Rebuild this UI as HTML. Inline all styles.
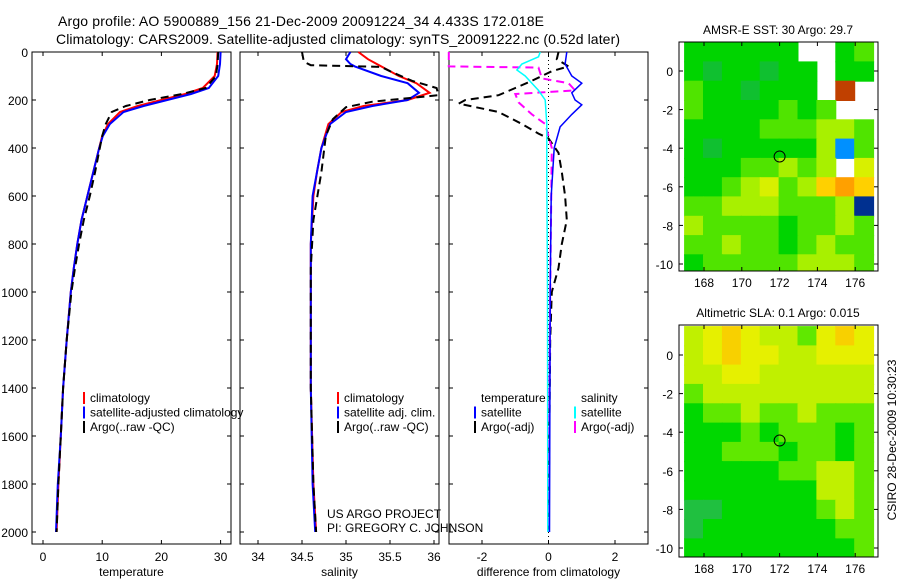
<!DOCTYPE html>
<html><head><meta charset="utf-8"><style>
body{margin:0;background:#fff;}
svg text{font-family:"Liberation Sans",sans-serif;fill:#000;}
</style></head><body>
<svg id="c" width="900" height="580" xmlns="http://www.w3.org/2000/svg">
<text x="58" y="26" font-size="14" textLength="486">Argo profile: AO 5900889_156 21-Dec-2009 20091224_34 4.433S 172.018E</text>
<text x="56" y="44" font-size="14" textLength="564">Climatology: CARS2009. Satellite-adjusted climatology: synTS_20091222.nc (0.52d later)</text>
</svg>
<script>
// ---- data ----
const depthTicks=[0,200,400,600,800,1000,1200,1400,1600,1800,2000];
const tempTicks=[0,10,20,30];
const salTicks=[34,34.5,35,35.5,36];
const diffTicks=[-2,0,2];
const tClimD=[0,50,100,150,175,200,225,250,300,350,400,500,600,700,800,900,1000,1200,1400,1600,1800,2000];
const tClim=[29.5,29.4,29,27,24,20,16,13,11,10,9.5,8.5,7.5,6.5,5.8,5.2,4.7,4,3.4,3,2.6,2.3];
const tSat=[30,29.9,29.6,28,25,21,17,13.6,11.3,10.1,9.5,8.5,7.5,6.5,5.8,5.2,4.7,4,3.4,3,2.5,2.2];
const tArgo=[29.6,29.5,29.2,27.5,23.5,18,14,11.6,10.6,10,9.6,8.8,7.9,6.9,6.1,5.4,4.8,4,3.4,3,2.6,2.3];
const sD=[0,30,50,60,100,130,170,200,225,250,300,400,500,600,800,1000,1400,1800,2000];
const sClim=[35.14,35.25,35.35,35.4,35.6,35.8,35.95,35.7,35.2,34.95,34.8,34.72,34.67,34.63,34.6,34.6,34.6,34.63,34.66];
const sSat=[35.05,35.0,35.05,35.1,35.4,35.7,35.83,35.7,35.3,35.0,34.82,34.72,34.67,34.62,34.6,34.6,34.6,34.62,34.65];
const aD=[0,40,55,62,80,120,150,180,207,230,280,350,500,700,900,1000,1400,1800,2000];
const sArgo=[34.5,34.52,34.6,35.4,35.5,35.75,36.03,36.05,35.3,35.0,34.85,34.77,34.72,34.63,34.6,34.6,34.6,34.63,34.66];
const dBlueD=[0,50,100,130,170,200,220,260,312,400,600,1000,2000];
const dBlue=[0.55,0.5,0.7,1.0,0.7,0.8,1.0,0.7,0.35,0.17,0.08,0.05,0.03];
const dCyanD=[0,20,50,75,100,130,160,200,300,500,1000,2000];
const dCyan=[-0.25,-0.3,-0.8,-0.95,-0.7,-0.5,-0.3,-0.1,-0.05,-0.05,-0.03,-0.02];
const dBlackD=[0,30,60,80,120,150,180,200,215,250,300,340,360,420,500,600,700,800,900,1000,1200,2000];
const dBlack=[0.3,0.25,0.6,0.1,-0.5,-1.0,-1.5,-2.5,-2.7,-1.5,-0.8,-0.3,0,0.3,0.4,0.5,0.55,0.4,0.3,0.1,0.05,0];
const dMagD=[0,60,65,110,130,160,175,210,260,300,400,1000,2000];
const dMag=[-3.0,-3.0,-0.3,-0.2,0.6,0.8,-1.0,-0.9,-0.5,-0.1,0.1,0.05,0];
const lonTicks=[168,170,172,174,176];
const latTicks=[0,-2,-4,-6,-8,-10];
// SST grid rows lat 1.5 -> -10.5 step 1, cols lon 167 -> 177 step 1; -1 = no data
const sstGrid=[
[1,1,1,1,1,1,-1,-1,1,2],
[1,0,1,1,0,1,1,-1,1,1],
[2,1,1,0,1,1,1,-1,7,-1],
[2,1,1,1,1,2,1,2,-1,-1],
[1,1,1,1,2,2,2,3,3,2],
[1,0,1,1,1,1,1,3,8,2],
[1,1,1,2,2,3,2,3,-1,4],
[1,1,2,3,4,2,3,5,6,5],
[2,2,3,3,3,2,2,2,3,9],
[3,2,2,2,2,1,2,2,3,2],
[2,2,3,2,2,1,2,3,2,2],
[1,2,2,2,2,2,3,3,3,2]];
const slaGrid=[
[3,4,5,4,3,3,2,4,5,4],
[3,4,5,4,4,3,3,4,4,4],
[3,3,4,4,3,3,3,3,3,3],
[2,3,3,3,3,3,3,3,3,3],
[1,2,2,3,2,2,3,2,2,2],
[1,1,1,2,1,2,2,2,1,2],
[1,1,2,2,2,1,2,2,1,2],
[1,1,1,1,1,2,2,3,3,2],
[1,1,1,1,1,1,1,3,3,2],
[0,0,1,1,1,1,1,2,3,2],
[0,1,1,1,1,1,1,1,2,2],
[1,1,1,1,1,1,1,1,1,2]];
const palette={0:'#10c030',1:'#00d400',2:'#50e400',3:'#a8f000',4:'#d8f000',5:'#ffd000',6:'#ffa000',7:'#c04000',8:'#0090ff',9:'#003090'};
const slaPal={0:'#20c040',1:'#00d800',2:'#60e800',3:'#c0f000',4:'#e6f000',5:'#f8d000'};

// ---- drawing ----
const svg=document.getElementById('c');
const NS='http://www.w3.org/2000/svg';
function mk(tag,attrs,parent){const e=document.createElementNS(NS,tag);for(const k in attrs)e.setAttribute(k,attrs[k]);(parent||svg).appendChild(e);return e;}
const Y0=52,Y1=544;
const dy=d=>52+d*0.24;
const panels=[
 {x0:32,x1:231,sx:v=>43+v*5.92,ticks:tempTicks,label:'temperature',name:'temperature-panel'},
 {x0:240,x1:439,sx:v=>258+(v-34)*88,ticks:salTicks,label:'salinity',name:'salinity-panel'},
 {x0:449,x1:648,sx:v=>548.5+v*33.25,ticks:diffTicks,label:'difference from climatology',name:'difference-panel'}];
panels.forEach((p,i)=>{
 const g=mk('g',{});
 
 
 mk('rect',{x:p.x0,y:Y0,width:p.x1-p.x0,height:Y1-Y0,fill:'none',stroke:'#000','stroke-width':1},g);
 depthTicks.forEach(d=>{
  mk('line',{x1:p.x0,x2:p.x0+4,y1:dy(d),y2:dy(d),stroke:'#000'},g);
  mk('line',{x1:p.x1-4,x2:p.x1,y1:dy(d),y2:dy(d),stroke:'#000'},g);
  if(i===0){const t=mk('text',{x:28,y:dy(d)+5,'font-size':12,'text-anchor':'end'},g);t.textContent=d;
   }
 });
 p.ticks.forEach(v=>{
  const x=p.sx(v);
  mk('line',{x1:x,x2:x,y1:Y1,y2:Y1-4,stroke:'#000'},g);
  mk('line',{x1:x,x2:x,y1:Y0,y2:Y0+4,stroke:'#000'},g);
  const t=mk('text',{x:x,y:561,'font-size':12,'text-anchor':'middle'},g);t.textContent=v;
  
 });
 const t=mk('text',{x:(p.x0+p.x1)/2,y:576,'font-size':12,'text-anchor':'middle'},g);t.textContent=p.label;
 
});
function line(ds,vs,sx,color,dash,w,name){
 const pts=ds.map((d,i)=>sx(vs[i]).toFixed(1)+','+dy(d).toFixed(1)).join(' ');
 const e=mk('polyline',{points:pts,fill:'none',stroke:color,'stroke-width':w,'stroke-dasharray':dash||'none'});
 
 
}
const P=panels;
line(tClimD,tClim,P[0].sx,'#f00','',2,'temp-climatology-line');
line(tClimD,tSat,P[0].sx,'#00f','',2,'temp-satellite-line');
line(tClimD,tArgo,P[0].sx,'#000','8,5',2,'temp-argo-line');
line(sD,sClim,P[1].sx,'#f00','',2,'sal-climatology-line');
line(sD,sSat,P[1].sx,'#00f','',2,'sal-satellite-line');
line(aD,sArgo,P[1].sx,'#000','8,5',2,'sal-argo-line');
const zl=mk('line',{x1:P[2].sx(0),x2:P[2].sx(0),y1:Y0,y2:Y1,stroke:'#000','stroke-dasharray':'1,3'});

line(dBlackD,dBlack,P[2].sx,'#000','8,5',2,'temp-argo-diff-line');
line(dMagD,dMag,P[2].sx,'#f0f','8,5',2,'sal-argo-diff-line');
line(dBlueD,dBlue,P[2].sx,'#00f','',1.5,'temp-satellite-diff-line');
line(dCyanD,dCyan,P[2].sx,'#0ff','',1.5,'sal-satellite-diff-line');

function legend(x,y,items,name){
 const g=mk('g',{});
 
 items.forEach((it,i)=>{
  if(it[1])mk('rect',{x:x,y:y+i*14.5-10,width:2,height:12,fill:it[1]},g);
  const t=mk('text',{x:x+7,y:y+i*14.5,'font-size':12},g);t.textContent=it[0];
 });
}
legend(83,402,[['climatology','#f00'],['satellite-adjusted climatology','#00f'],['Argo(..raw -QC)','#000']],'temperature-legend');
legend(337,402,[['climatology','#f00'],['satellite adj. clim.','#00f'],['Argo(..raw -QC)','#000']],'salinity-legend');
legend(474,402,[['temperature',null],['satellite','#00f'],['Argo(-adj)','#000']],'temp-diff-legend');
legend(574,402,[['salinity',null],['satellite','#0ff'],['Argo(-adj)','#f0f']],'sal-diff-legend');
const u1=mk('text',{x:327,y:518,'font-size':12});u1.textContent='US ARGO PROJECT';

const u2=mk('text',{x:327,y:532,'font-size':12});u2.textContent='PI: GREGORY C. JOHNSON';


function map(top,bot,lat0y,grid,pal,title,name){
 const X0=679,X1=878;
 const lx=lon=>704+(lon-168)*18.9;
 const sy=lat=>lat0y-lat*19.3;
 const g=mk('g',{});
 
 const cp=mk('clipPath',{id:name+'-clip'},g);
 mk('rect',{x:X0,y:top,width:X1-X0,height:bot-top},cp);
 const cg=mk('g',{'clip-path':'url(#'+name+'-clip)'},g);
 mk('rect',{x:X0,y:top,width:X1-X0,height:bot-top,fill:'#fff'},cg);
 grid.forEach((row,r)=>row.forEach((v,c)=>{
  if(v<0)return;
  const lat=1.5-r, lon=167+c;
  const x=lx(lon)-1, y=sy(lat);
  const e=mk('rect',{x:x.toFixed(1),y:y.toFixed(1),width:19.9,height:20.3,fill:pal[v]},cg);
  
  
 }));
 const m=mk('circle',{cx:lx(172),cy:sy(-4.433),r:5.5,fill:'none',stroke:'#000'},g);
 
 mk('rect',{x:X0,y:top,width:X1-X0,height:bot-top,fill:'none',stroke:'#000'},g);
 lonTicks.forEach(v=>{
  mk('line',{x1:lx(v),x2:lx(v),y1:bot,y2:bot-4,stroke:'#000'},g);
  mk('line',{x1:lx(v),x2:lx(v),y1:top,y2:top+4,stroke:'#000'},g);
  const t=mk('text',{x:lx(v),y:bot+16,'font-size':12,'text-anchor':'middle'},g);t.textContent=v;
 });
 latTicks.forEach(v=>{
  mk('line',{x1:X0,x2:X0+4,y1:sy(v),y2:sy(v),stroke:'#000'},g);
  mk('line',{x1:X1-4,x2:X1,y1:sy(v),y2:sy(v),stroke:'#000'},g);
  const t=mk('text',{x:673,y:sy(v)+5,'font-size':12,'text-anchor':'end'},g);t.textContent=v;
 });
 const t=mk('text',{x:778,y:top-8,'font-size':12,'text-anchor':'middle'},g);t.textContent=title;
 
}
map(42,271,71,sstGrid,palette,'AMSR-E SST: 30 Argo: 29.7','sst-map');
map(325,557,355,slaGrid,slaPal,'Altimetric SLA: 0.1 Argo: 0.015','sla-map');
const cs=mk('text',{x:896,y:440,'font-size':12,'text-anchor':'middle',transform:'rotate(-90 896 440)'});
cs.textContent='CSIRO 28-Dec-2009 10:30:23';

</script>
</body></html>
